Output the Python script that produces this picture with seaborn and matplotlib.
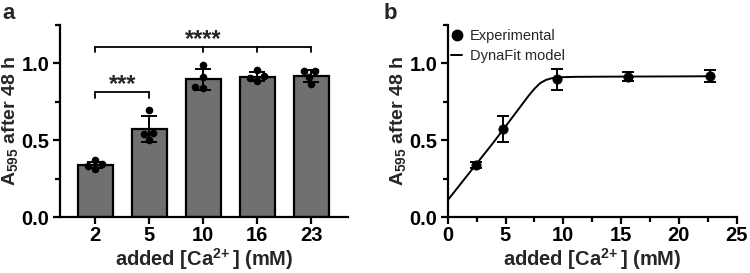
import numpy as np
import pandas as pd
import matplotlib
matplotlib.use("Agg")
import matplotlib.pyplot as plt
import seaborn as sns
from matplotlib.lines import Line2D
from matplotlib.ticker import MultipleLocator

# ---- data ----
categories = ["2", "5", "10", "16", "23"]
bar_means = [0.337, 0.572, 0.897, 0.915, 0.918]
bar_sd = [0.020, 0.086, 0.068, 0.030, 0.037]
replicates = {
    "2": [0.370, 0.345, 0.333, 0.315],
    "5": [0.700, 0.545, 0.540, 0.500],
    "10": [0.989, 0.913, 0.847, 0.840],
    "16": [0.956, 0.919, 0.889, 0.906],
    "23": [0.950, 0.950, 0.913, 0.865],
}
exp_conc = [2.45, 4.76, 9.5, 15.6, 22.7]
exp_mean = [0.337, 0.572, 0.897, 0.915, 0.918]
exp_sd = [0.020, 0.086, 0.068, 0.030, 0.037]
fit_x = [0, 1, 2, 3, 4, 5, 6, 6.5, 7, 7.5, 8, 8.5, 9, 9.5, 10, 11, 13, 16, 20, 22.7]
fit_y = [0.11, 0.205, 0.30, 0.395, 0.49, 0.59, 0.69, 0.74, 0.79, 0.835, 0.872,
         0.893, 0.904, 0.909, 0.911, 0.913, 0.914, 0.915, 0.916, 0.917]

sns.set_theme(style="ticks")
plt.rcParams["font.family"] = ["Liberation Sans", "DejaVu Sans"]
plt.rcParams["font.weight"] = "bold"
plt.rcParams["mathtext.fontset"] = "custom"
plt.rcParams["mathtext.rm"] = "Liberation Sans:bold"
plt.rcParams["mathtext.bf"] = "Liberation Sans:bold"
plt.rcParams["mathtext.it"] = "Liberation Sans:bold"
plt.rcParams["axes.linewidth"] = 1.6
for a in ("xtick", "ytick"):
    plt.rcParams[f"{a}.major.width"] = 1.6
    plt.rcParams[f"{a}.minor.width"] = 1.6
    plt.rcParams[f"{a}.major.size"] = 5
    plt.rcParams[f"{a}.minor.size"] = 3.5
    plt.rcParams[f"{a}.major.pad"] = 2.5
    plt.rcParams[f"{a}.color"] = "black"
plt.rcParams["xtick.major.pad"] = 1.5
plt.rcParams["axes.edgecolor"] = "black"

fig = plt.figure(figsize=(7.5, 2.73), dpi=100)
ax1 = fig.add_axes([0.080, 0.205, 0.384, 0.703])
ax2 = fig.add_axes([0.597, 0.205, 0.385, 0.703])

TICK_FS = 14.5
XLAB_FS = 14.5
YLAB_FS = 14
ylab = r"A$_{\mathbf{595}}$ after 48 h"
xlab = r"added [Ca$^{\mathbf{2\!+}}$] (mM)"

# ---- panel a ----
df_bar = pd.DataFrame({"conc": categories, "mean": bar_means})
sns.barplot(data=df_bar, x="conc", y="mean", order=categories, color="#707070",
            saturation=1, width=0.65, edgecolor="black", linewidth=1.6, ax=ax1)
ax1.errorbar(np.arange(len(categories)), bar_means, yerr=bar_sd, fmt="none",
             ecolor="black", elinewidth=1.4, capsize=6, capthick=1.4, zorder=4)
rows = [(c, v) for c in categories for v in replicates[c]]
df_pts = pd.DataFrame(rows, columns=["conc", "val"])
sns.swarmplot(data=df_pts, x="conc", y="val", order=categories, color="black",
              size=5.5, ax=ax1, zorder=5)
ax1.set_xlim(-0.65, 4.68)
ax1.set_ylim(0, 1.25)
ax1.yaxis.set_major_locator(MultipleLocator(0.5))
ax1.yaxis.set_minor_locator(MultipleLocator(0.25))

# significance brackets
def bracket(ax, xs, y, h, text, ty):
    ax.plot([xs[0], xs[-1]], [y, y], color="black", lw=1.3, clip_on=False)
    for x in xs:
        ax.plot([x, x], [y, y - h], color="black", lw=1.3, clip_on=False)
    ax.text((xs[0] + xs[-1]) / 2, ty, text, ha="center", va="center",
            fontsize=17, fontweight="bold")

bracket(ax1, [0, 1], 0.815, 0.037, "***", 0.865)
bracket(ax1, [0, 2, 3, 4], 1.109, 0.037, "****", 1.158)

# ---- panel b ----
df_fit = pd.DataFrame({"x": fit_x, "y": fit_y})
sns.lineplot(data=df_fit, x="x", y="y", color="black", lw=1.4, ax=ax2)
ax2.errorbar(exp_conc, exp_mean, yerr=exp_sd, fmt="none", ecolor="black",
             elinewidth=1.4, capsize=4, capthick=1.4, zorder=4)
df_exp = pd.DataFrame({"x": exp_conc, "y": exp_mean})
sns.scatterplot(data=df_exp, x="x", y="y", color="black", s=45, edgecolor="black",
                ax=ax2, zorder=5)
ax2.set_xlim(0, 25)
ax2.set_ylim(0, 1.25)
ax2.xaxis.set_major_locator(MultipleLocator(5))
ax2.xaxis.set_minor_locator(MultipleLocator(2.5))
ax2.yaxis.set_major_locator(MultipleLocator(0.5))
ax2.yaxis.set_minor_locator(MultipleLocator(0.25))
handles = [Line2D([], [], marker="o", color="black", ls="none", markersize=7.5),
           Line2D([], [], color="black", lw=1.4)]
ax2.legend(handles, ["Experimental", "DynaFit model"], loc="upper left",
           bbox_to_anchor=(-0.035, 1.05), frameon=False, handlelength=0.8,
           handletextpad=0.5, labelspacing=0.45,
           prop={"family": "Liberation Sans", "weight": "normal", "size": 10.5})

for ax in (ax1, ax2):
    ax.set_xlabel(xlab, fontsize=XLAB_FS, fontweight="bold")
    ax.set_ylabel(ylab, fontsize=YLAB_FS, fontweight="bold")
    ax.xaxis.set_label_coords(0.5, -0.15)
    ax.yaxis.set_label_coords(-0.138, 0.5)
    ax.tick_params(labelsize=TICK_FS)
    for lab in ax.get_xticklabels() + ax.get_yticklabels():
        lab.set_fontweight("bold")
    sns.despine(ax=ax)

fig.text(0.003, 0.99, "a", fontsize=16, fontweight="bold", va="top", ha="left")
fig.text(0.512, 0.99, "b", fontsize=16, fontweight="bold", va="top", ha="left")

fig.savefig("out.png", dpi=100)
